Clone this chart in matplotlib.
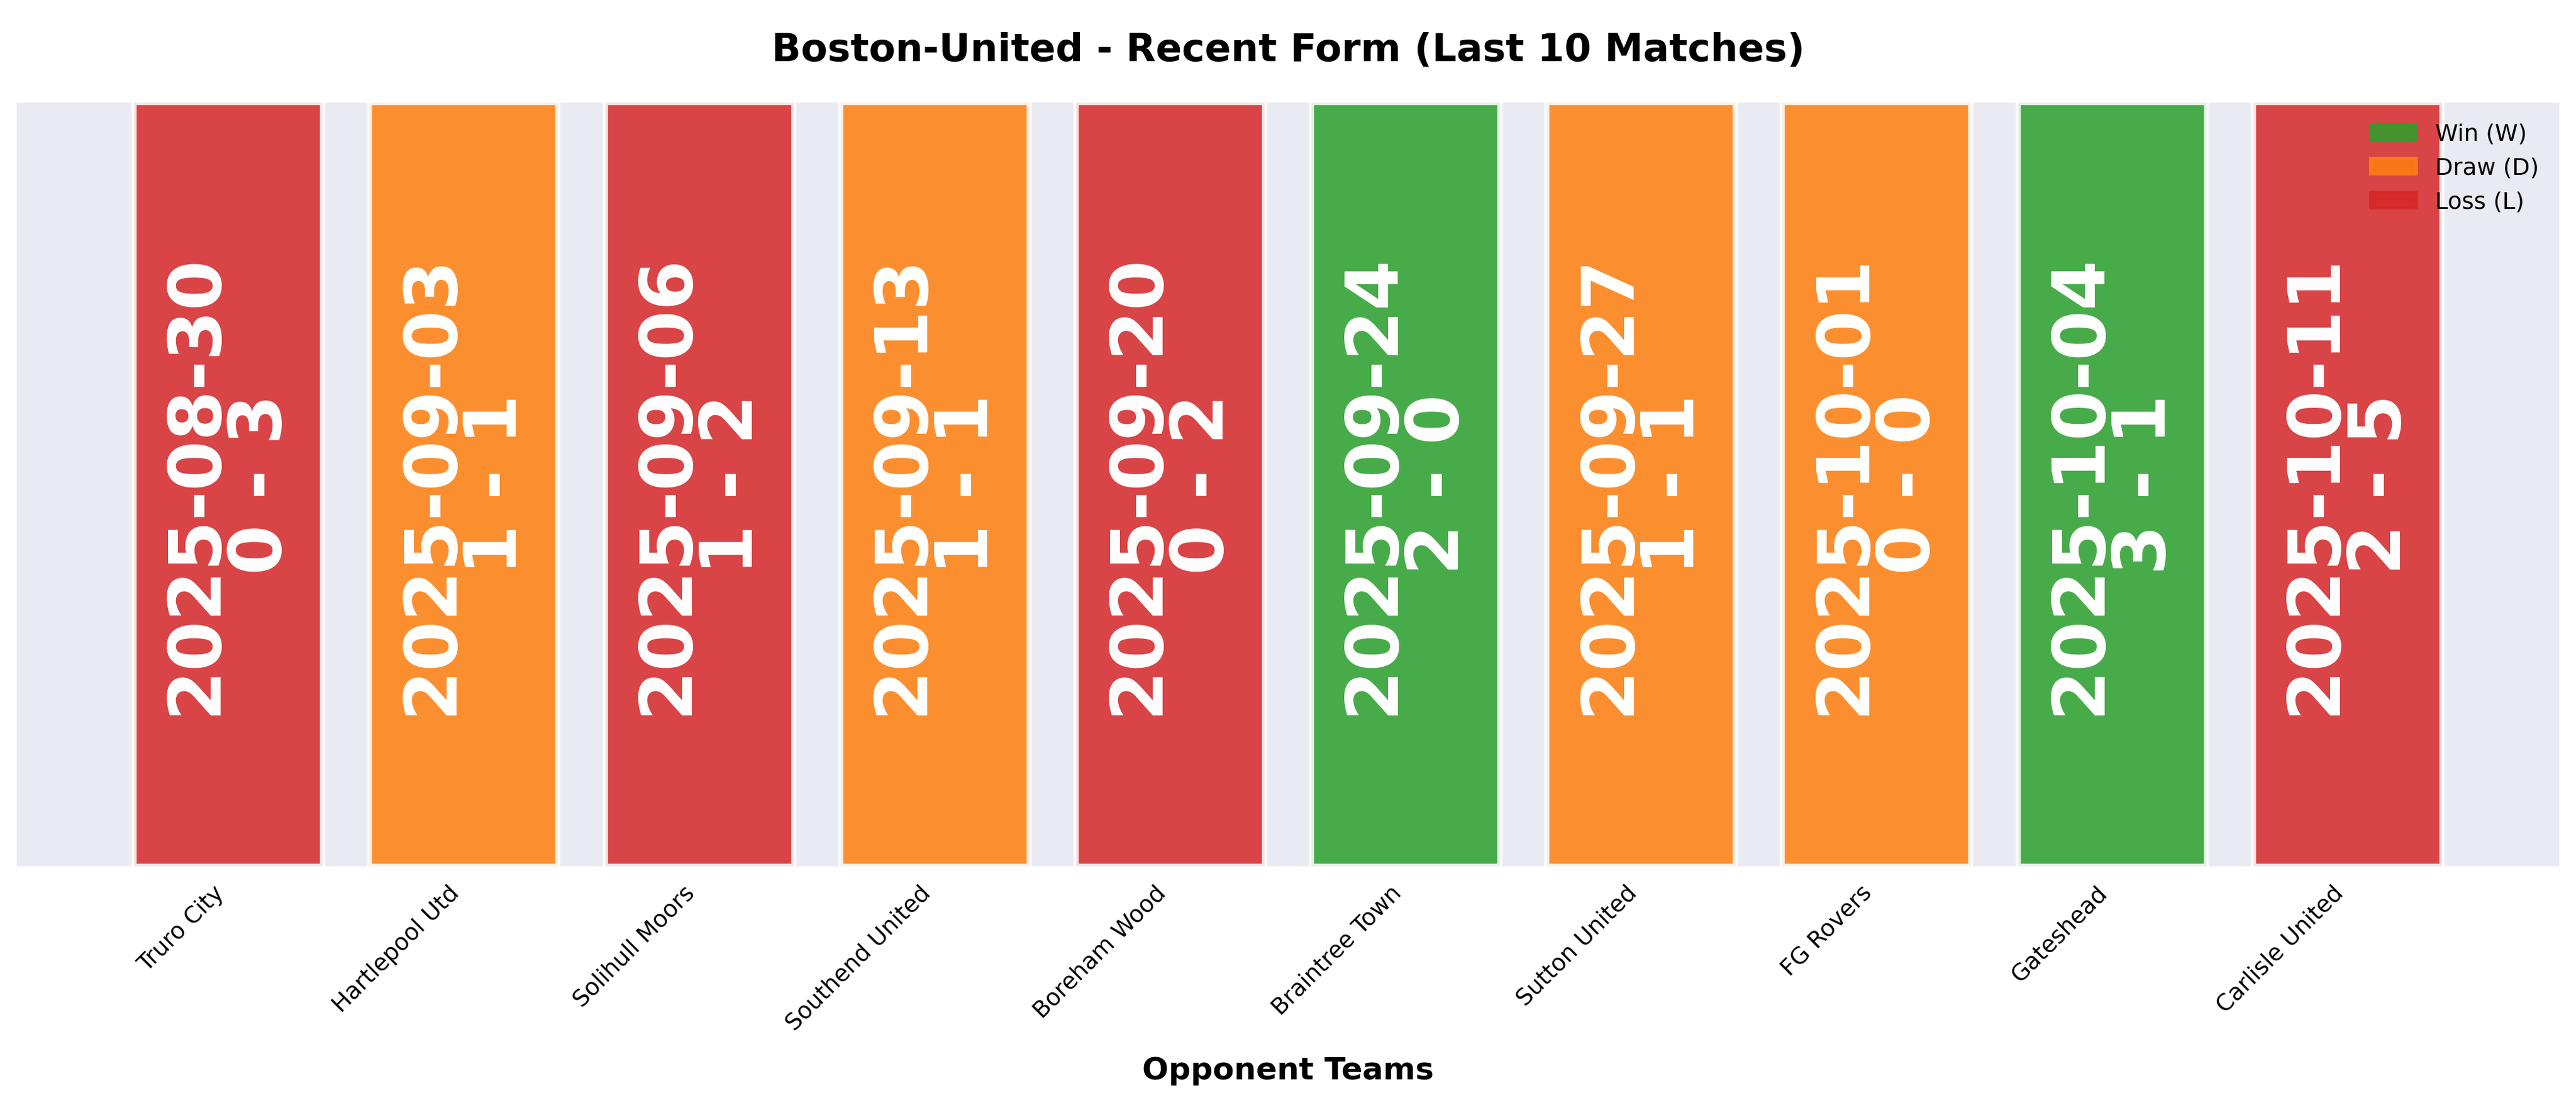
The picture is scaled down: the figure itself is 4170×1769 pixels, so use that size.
import matplotlib
matplotlib.use("Agg")
import matplotlib.pyplot as plt
from matplotlib.patches import Patch

opponents = ["Truro City", "Hartlepool Utd", "Solihull Moors", "Southend United", "Boreham Wood",
             "Braintree Town", "Sutton United", "FG Rovers", "Gateshead", "Carlisle United"]
dates = ["2025-08-30", "2025-09-03", "2025-09-06", "2025-09-13", "2025-09-20",
         "2025-09-24", "2025-09-27", "2025-10-01", "2025-10-04", "2025-10-11"]
scores = ["0 - 3", "1 - 1", "1 - 2", "1 - 1", "0 - 2", "2 - 0", "1 - 1", "0 - 0", "3 - 1", "2 - 5"]
results = ["L", "D", "L", "D", "L", "W", "D", "D", "W", "L"]
colors = {"W": "#2ca02c", "D": "#ff7f0e", "L": "#d62728"}

fig = plt.figure(figsize=(13.9, 5.897), dpi=300)
ax = fig.add_axes([10/1568, 1-524/661, 1548/1568, 462/661])
ax.set_facecolor("#EAEAF2")
x = list(range(len(opponents)))
ax.bar(x, [1]*len(x), width=0.8, color=[colors[r] for r in results], alpha=0.85,
       edgecolor="white", linewidth=2)
for i in x:
    ax.text(i, 0.5, f"{dates[i]}\n{scores[i]}", rotation=90, ha="center", va="center",
            color="white", fontsize=28, fontweight="bold", linespacing=0.9)
ax.set_xlim(-0.9, 9.9)
ax.set_ylim(0, 1)
ax.set_yticks([])
ax.set_xticks(x)
ax.set_xticklabels(opponents, rotation=45, ha="right", fontsize=9)
ax.tick_params(axis="x", length=0, pad=6)
for s in ax.spines.values():
    s.set_visible(False)
ax.set_xlabel("Opponent Teams", fontsize=12, fontweight="bold", labelpad=8)
ax.set_title("Boston-United - Recent Form (Last 10 Matches)", fontsize=15, fontweight="bold", pad=16)
handles = [Patch(color=colors[k], alpha=0.85) for k in ["W", "D", "L"]]
ax.legend(handles, ["Win (W)", "Draw (D)", "Loss (L)"], loc="upper right", frameon=False, fontsize=9)
fig.savefig("out.png", dpi=300)
